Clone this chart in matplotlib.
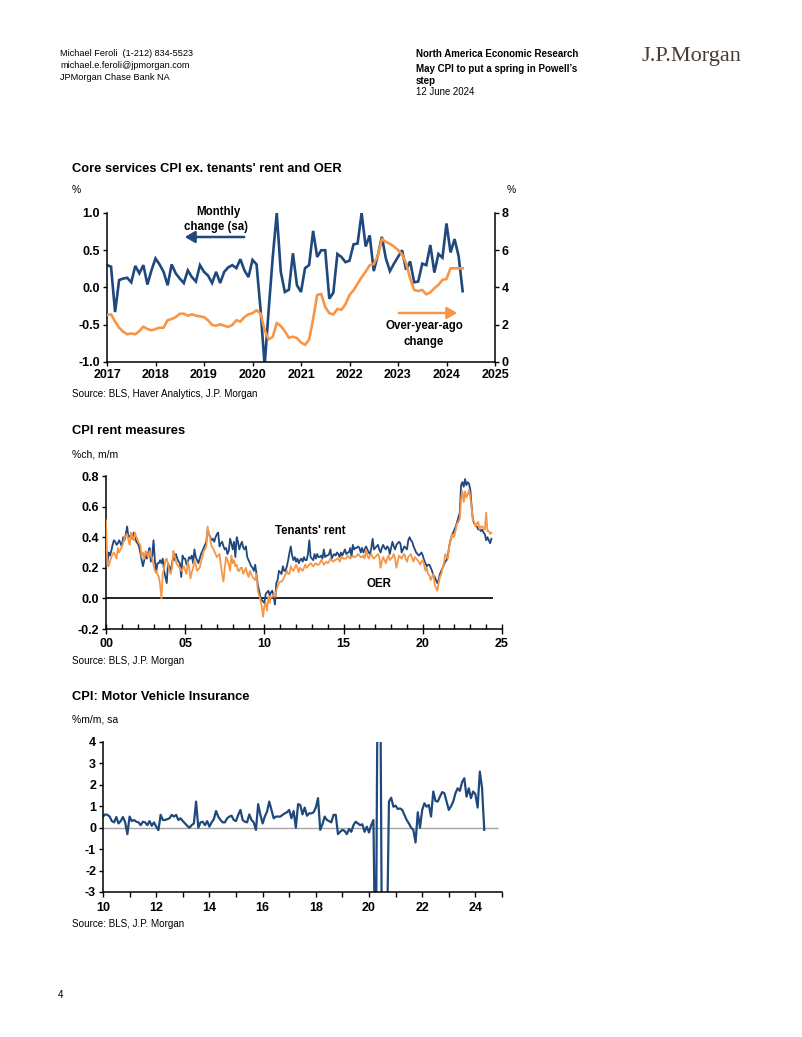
import matplotlib
matplotlib.use("Agg")
import matplotlib.pyplot as plt
import numpy as np

plt.rcParams['font.family'] = ['Liberation Sans', 'DejaVu Sans']

# ---------------- DATA ----------------
# Chart 1: Core services CPI ex. tenants' rent and OER, monthly Jan 2017 - May 2024
core_mom = [0.30, 0.28, -0.33, 0.10, 0.12, 0.13, 0.07, 0.29, 0.19, 0.30, 0.04, 0.23,
            0.39, 0.31, 0.21, 0.03, 0.31, 0.19, 0.12, 0.06, 0.23, 0.14, 0.08, 0.30,
            0.21, 0.16, 0.06, 0.21, 0.06, 0.21, 0.27, 0.30, 0.26, 0.38, 0.23, 0.14,
            0.37, 0.31, -0.30, -1.05, -0.30, 0.40, 1.00, 0.21, -0.06, -0.03, 0.46, 0.03,
            -0.06, 0.26, 0.30, 0.76, 0.41, 0.50, 0.50, -0.15, -0.07, 0.45, 0.41, 0.34,
            0.36, 0.58, 0.59, 1.00, 0.55, 0.70, 0.22, 0.43, 0.68, 0.39, 0.22, 0.32,
            0.41, 0.50, 0.24, 0.35, 0.07, 0.08, 0.32, 0.30, 0.57, 0.20, 0.45, 0.40,
            0.86, 0.47, 0.65, 0.42, -0.05]
core_yoy = [2.52, 2.56, 2.17, 1.84, 1.63, 1.49, 1.53, 1.49, 1.66, 1.90, 1.77, 1.70,
            1.77, 1.84, 1.84, 2.25, 2.31, 2.41, 2.59, 2.59, 2.49, 2.56, 2.49, 2.45,
            2.41, 2.24, 1.99, 1.95, 2.02, 1.95, 1.88, 1.99, 2.24, 2.17, 2.41, 2.56,
            2.62, 2.78, 2.60, 1.70, 1.22, 1.35, 2.10, 1.93, 1.66, 1.30, 1.36, 1.28,
            1.05, 0.92, 1.20, 2.30, 3.60, 3.65, 2.95, 2.62, 2.55, 2.85, 2.80, 3.10,
            3.60, 3.85, 4.20, 4.55, 4.85, 5.20, 5.25, 5.70, 6.60, 6.45, 6.35, 6.20,
            6.01, 5.78, 5.30, 4.49, 3.87, 3.81, 3.87, 3.63, 3.74, 3.96, 4.14, 4.41,
            4.46, 5.03, 5.03, 5.03, 5.03]
c1_start = 2017
c1_xticks = [2017, 2018, 2019, 2020, 2021, 2022, 2023, 2024, 2025]
c1_yticks = [-1.0, -0.5, 0.0, 0.5, 1.0]
c1_y2ticks = [0, 2, 4, 6, 8]

# Chart 2: CPI rent measures, %ch m/m, monthly Jan 2000 - May 2024
rent = [0.33, 0.23, 0.30, 0.28, 0.31, 0.35, 0.38, 0.37, 0.35, 0.36, 0.38, 0.36,
        0.34, 0.40, 0.38, 0.42, 0.47, 0.40, 0.41, 0.40, 0.39, 0.43, 0.40, 0.37,
        0.36, 0.34, 0.30, 0.25, 0.21, 0.25, 0.29, 0.26, 0.30, 0.33, 0.24, 0.28,
        0.38, 0.25, 0.17, 0.23, 0.23, 0.25, 0.23, 0.26, 0.18, 0.14, 0.10, 0.23,
        0.20, 0.18, 0.23, 0.27, 0.25, 0.29, 0.26, 0.24, 0.23, 0.14, 0.28, 0.26,
        0.26, 0.22, 0.24, 0.27, 0.26, 0.28, 0.23, 0.32, 0.27, 0.25, 0.23, 0.26,
        0.29, 0.31, 0.33, 0.35, 0.37, 0.45, 0.42, 0.40, 0.38, 0.39, 0.37, 0.40,
        0.42, 0.43, 0.34, 0.36, 0.37, 0.34, 0.32, 0.33, 0.29, 0.31, 0.39, 0.36,
        0.32, 0.37, 0.27, 0.40, 0.37, 0.32, 0.35, 0.37, 0.33, 0.32, 0.34, 0.27,
        0.25, 0.23, 0.21, 0.20, 0.18, 0.22, 0.16, 0.09, 0.05, 0.01, -0.01, -0.02,
        -0.03, 0.03, 0.04, 0.05, 0.02, 0.04, 0.05, 0.01, -0.04, 0.10, 0.12, 0.18,
        0.17, 0.16, 0.21, 0.18, 0.18, 0.21, 0.25, 0.30, 0.34, 0.28, 0.25, 0.27,
        0.24, 0.26, 0.23, 0.25, 0.26, 0.24, 0.27, 0.25, 0.25, 0.29, 0.38, 0.27,
        0.26, 0.25, 0.29, 0.26, 0.29, 0.27, 0.27, 0.28, 0.26, 0.32, 0.27, 0.28,
        0.28, 0.29, 0.32, 0.26, 0.28, 0.29, 0.28, 0.30, 0.29, 0.27, 0.30, 0.28,
        0.30, 0.32, 0.29, 0.30, 0.30, 0.33, 0.27, 0.35, 0.32, 0.33, 0.33, 0.34,
        0.33, 0.30, 0.33, 0.30, 0.32, 0.34, 0.32, 0.30, 0.29, 0.33, 0.39, 0.32,
        0.33, 0.34, 0.35, 0.32, 0.30, 0.33, 0.35, 0.33, 0.32, 0.34, 0.33, 0.29,
        0.33, 0.37, 0.34, 0.32, 0.35, 0.36, 0.37, 0.36, 0.30, 0.32, 0.34, 0.33,
        0.32, 0.38, 0.40, 0.38, 0.37, 0.34, 0.32, 0.30, 0.29, 0.28, 0.29, 0.30,
        0.28, 0.25, 0.23, 0.21, 0.22, 0.22, 0.20, 0.18, 0.15, 0.14, 0.12, 0.10,
        0.12, 0.16, 0.18, 0.20, 0.22, 0.24, 0.25, 0.28, 0.34, 0.38, 0.41, 0.43,
        0.45, 0.47, 0.50, 0.53, 0.56, 0.74, 0.76, 0.73, 0.78, 0.74, 0.76, 0.75,
        0.71, 0.60, 0.51, 0.49, 0.48, 0.47, 0.45, 0.45, 0.44, 0.45, 0.43, 0.42,
        0.38, 0.40, 0.38, 0.36, 0.39]
oer = [0.51, 0.22, 0.21, 0.24, 0.27, 0.29, 0.30, 0.28, 0.26, 0.33, 0.30, 0.32,
       0.34, 0.36, 0.40, 0.41, 0.42, 0.38, 0.35, 0.43, 0.40, 0.38, 0.43, 0.40,
       0.38, 0.36, 0.35, 0.27, 0.30, 0.26, 0.31, 0.29, 0.27, 0.31, 0.28, 0.26,
       0.22, 0.18, 0.18, 0.16, 0.14, 0.09, 0.00, 0.16, 0.20, 0.25, 0.26, 0.22,
       0.18, 0.16, 0.20, 0.31, 0.28, 0.24, 0.22, 0.21, 0.20, 0.18, 0.19, 0.21,
       0.18, 0.16, 0.24, 0.20, 0.13, 0.17, 0.20, 0.25, 0.22, 0.18, 0.19, 0.20,
       0.24, 0.27, 0.31, 0.32, 0.34, 0.47, 0.42, 0.39, 0.34, 0.33, 0.31, 0.29,
       0.27, 0.28, 0.29, 0.22, 0.16, 0.11, 0.20, 0.27, 0.25, 0.22, 0.18, 0.28,
       0.23, 0.25, 0.21, 0.22, 0.18, 0.18, 0.20, 0.20, 0.16, 0.18, 0.20, 0.16,
       0.14, 0.18, 0.16, 0.14, 0.13, 0.12, 0.16, 0.05, 0.02, -0.01, -0.05, -0.12,
       -0.05, -0.03, -0.08, 0.01, -0.03, 0.01, 0.01, 0.03, 0.01, 0.05, 0.08, 0.10,
       0.11, 0.11, 0.12, 0.14, 0.16, 0.18, 0.16, 0.16, 0.21, 0.19, 0.18, 0.20,
       0.22, 0.20, 0.17, 0.20, 0.19, 0.18, 0.20, 0.22, 0.20, 0.21, 0.22, 0.23,
       0.22, 0.21, 0.22, 0.23, 0.22, 0.22, 0.23, 0.25, 0.24, 0.22, 0.23, 0.24,
       0.23, 0.24, 0.26, 0.25, 0.24, 0.25, 0.25, 0.26, 0.26, 0.24, 0.26, 0.27,
       0.26, 0.26, 0.26, 0.28, 0.27, 0.26, 0.27, 0.28, 0.27, 0.27, 0.28, 0.29,
       0.28, 0.27, 0.27, 0.28, 0.26, 0.32, 0.28, 0.26, 0.28, 0.29, 0.27, 0.26,
       0.27, 0.28, 0.29, 0.27, 0.20, 0.24, 0.27, 0.25, 0.23, 0.26, 0.28, 0.25,
       0.26, 0.27, 0.29, 0.26, 0.20, 0.24, 0.28, 0.27, 0.26, 0.28, 0.29, 0.26,
       0.24, 0.27, 0.28, 0.29, 0.26, 0.24, 0.27, 0.26, 0.25, 0.24, 0.22, 0.24,
       0.25, 0.22, 0.18, 0.20, 0.16, 0.15, 0.12, 0.14, 0.16, 0.09, 0.07, 0.05,
       0.10, 0.14, 0.16, 0.20, 0.23, 0.29, 0.27, 0.26, 0.34, 0.38, 0.42, 0.40,
       0.41, 0.45, 0.49, 0.50, 0.52, 0.65, 0.70, 0.63, 0.70, 0.66, 0.68, 0.71,
       0.66, 0.59, 0.51, 0.50, 0.47, 0.49, 0.50, 0.45, 0.47, 0.47, 0.46, 0.45,
       0.56, 0.44, 0.44, 0.42, 0.43]
c2_start = 2000
c2_xticks = [2000, 2005, 2010, 2015, 2020, 2025]
c2_xlabels = ['00', '05', '10', '15', '20', '25']
c2_yticks = [-0.2, 0.0, 0.2, 0.4, 0.6, 0.8]

# Chart 3: CPI motor vehicle insurance, %m/m sa, monthly Jan 2010 - May 2024
mvi = [0.52, 0.62, 0.60, 0.52, 0.31, 0.25, 0.50, 0.20, 0.31, 0.50, 0.25, -0.30,
       0.52, 0.31, 0.36, 0.28, 0.25, 0.12, 0.28, 0.25, 0.12, 0.31, 0.09, 0.25,
       0.05, -0.11, 0.60, 0.36, 0.36, 0.40, 0.44, 0.60, 0.52, 0.60, 0.36, 0.44,
       0.31, 0.20, 0.09, 0.00, 0.12, 0.20, 1.22, 0.00, 0.25, 0.28, 0.12, 0.31,
       0.05, 0.25, 0.40, 0.78, 0.52, 0.36, 0.25, 0.25, 0.44, 0.52, 0.56, 0.36,
       0.31, 0.60, 0.83, 0.36, 0.28, 0.25, 0.62, 0.36, 0.25, -0.10, 1.10, 0.60,
       0.20, 0.52, 0.75, 1.22, 0.83, 0.44, 0.52, 0.52, 0.52, 0.60, 0.67, 0.72,
       0.83, 0.44, 0.78, 0.00, 1.10, 1.06, 0.62, 0.94, 0.56, 0.67, 0.67, 0.72,
       0.94, 1.38, -0.10, 0.16, 0.52, 0.36, 0.31, 0.25, 0.60, 0.60, -0.30, -0.19,
       -0.10, -0.15, -0.30, -0.06, -0.19, 0.12, 0.28, 0.20, 0.12, 0.16, -0.19, 0.05,
       -0.22, 0.12, 0.36, -8.0, 9.0, 9.0, -9.0, -8.0, -6.0, 1.22, 1.40, 0.98,
       1.03, 0.87, 0.90, 0.83, 0.60, 0.36, 0.20, 0.00, -0.10, -0.69, 0.72, 0.00,
       0.83, 1.14, 0.98, 1.06, 0.52, 1.69, 1.25, 1.22, 1.45, 1.66, 1.61, 1.22,
       0.83, 1.00, 1.22, 1.61, 1.84, 1.72, 2.13, 2.31, 1.45, 1.84, 1.38, 1.69,
       1.56, 0.94, 2.62, 1.85, -0.10]
c3_start = 2010
c3_xticks = [2010, 2012, 2014, 2016, 2018, 2020, 2022, 2024]
c3_xlabels = ['10', '12', '14', '16', '18', '20', '22', '24']
c3_yticks = [-3, -2, -1, 0, 1, 2, 3, 4]

# ---------------- FIGURE ----------------
W, H = 802, 1037
fig = plt.figure(figsize=(W / 100, H / 100), dpi=100)
BLUE = '#1F497D'
ORANGE = '#F79646'


def fx(x):
    return x / W


def fy(y):
    return 1 - y / H


def txt(x, y, s, size, bold=False, ha='left', va='center', **kw):
    fig.text(fx(x), fy(y), s, fontsize=size, fontweight='bold' if bold else 'normal',
             ha=ha, va=va, **kw)


def add_axes(l, t, r, b):
    return fig.add_axes([fx(l), fy(b), (r - l) / W, (b - t) / H])


# Header
txt(60, 53, "Michael Feroli  (1-212) 834-5523", 6.6)
txt(60, 65, "michael.e.feroli@jpmorgan.com", 6.6)
txt(60, 77, "JPMorgan Chase Bank NA", 6.6)
txt(416, 54, "North America Economic Research", 7.0, bold=True)
txt(416, 69, "May CPI to put a spring in Powell\u2019s", 7.0, bold=True)
txt(416, 81, "step", 7.0, bold=True)
txt(416, 92, "12 June 2024", 6.9)
fig.text(fx(641), fy(56), "J.P.Morgan", fontsize=16, family=['Liberation Serif', 'DejaVu Serif'],
         color='#4A3C32', ha='left', va='center')

# ---------- Chart 1 ----------
txt(72, 169, "Core services CPI ex. tenants' rent and OER", 9.3, bold=True)
txt(72, 190, "%", 7.5)
txt(511, 190, "%", 7.5, ha='center')
ax1 = add_axes(107, 213, 495, 362)
x1 = c1_start + np.arange(len(core_mom)) / 12
ax1.plot(x1, core_mom, color=BLUE, lw=1.9, solid_joinstyle='miter')
ax1.set_xlim(2017, 2025)
ax1.set_ylim(-1, 1)
ax1b = ax1.twinx()
ax1b.plot(x1, core_yoy, color=ORANGE, lw=1.9)
ax1b.set_ylim(0, 8)
ax1.set_xticks(c1_xticks, [str(v) for v in c1_xticks], fontweight='bold', fontsize=9)
ax1.set_yticks(c1_yticks, ["%.1f" % v for v in c1_yticks], fontweight='bold', fontsize=9)
ax1b.set_yticks(c1_y2ticks, [str(v) for v in c1_y2ticks], fontweight='bold', fontsize=9)
for a in (ax1, ax1b):
    a.spines['top'].set_visible(False)
    for s in a.spines.values():
        s.set_linewidth(1.1)
ax1.spines['right'].set_visible(False)
ax1b.spines['left'].set_visible(False)
ax1b.spines['bottom'].set_visible(False)
ax1.tick_params(axis='x', direction='out', length=3, width=1, pad=2)
ax1.tick_params(axis='y', direction='out', length=3, width=1, pad=2)
ax1b.tick_params(axis='y', direction='out', length=3, width=1, pad=2)
ax1.patch.set_visible(False)

txt(218, 212, "Monthly", 8.3, bold=True, ha='center')
txt(216, 227, "change (sa)", 8.3, bold=True, ha='center')
fig.add_artist(matplotlib.patches.FancyArrowPatch((fx(247), fy(237)), (fx(182), fy(237)),
               transform=fig.transFigure, arrowstyle='-|>,head_length=6,head_width=3.5',
               color=BLUE, lw=1.8, mutation_scale=1))
txt(424, 326, "Over-year-ago", 8.3, bold=True, ha='center')
txt(424, 342, "change", 8.3, bold=True, ha='center')
fig.add_artist(matplotlib.patches.FancyArrowPatch((fx(396), fy(313)), (fx(460), fy(313)),
               transform=fig.transFigure, arrowstyle='-|>,head_length=6,head_width=3.5',
               color=ORANGE, lw=1.8, mutation_scale=1))
txt(72, 394, "Source: BLS, Haver Analytics, J.P. Morgan", 7.1)

# ---------- Chart 2 ----------
txt(72, 431, "CPI rent measures", 9.3, bold=True)
txt(72, 454, "%ch, m/m", 7.5)
ax2 = add_axes(106, 476, 502, 629)
x2 = c2_start + np.arange(len(rent)) / 12
ax2.hlines(0, 2000, 2024.42, color='black', lw=1.2, zorder=1)
ax2.plot(x2, rent, color=BLUE, lw=1.3, zorder=2)
ax2.plot(x2, oer, color=ORANGE, lw=1.3, zorder=3)
ax2.set_xlim(2000, 2025)
ax2.set_ylim(-0.2, 0.8)
ax2.set_xticks(c2_xticks, c2_xlabels, fontweight='bold', fontsize=9)
ax2.set_xticks(np.arange(2000, 2026), minor=True)
ax2.set_yticks(c2_yticks, ["%.1f" % v for v in c2_yticks], fontweight='bold', fontsize=9)
for k in ('top', 'right'):
    ax2.spines[k].set_visible(False)
for s in ax2.spines.values():
    s.set_linewidth(1.1)
ax2.tick_params(axis='x', which='major', direction='inout', length=7, width=1, pad=3)
ax2.tick_params(axis='x', which='minor', direction='in', length=3.5, width=1)
ax2.tick_params(axis='y', direction='out', length=3, width=1, pad=2)
txt(310, 531, "Tenants' rent", 8.3, bold=True, ha='center')
txt(379, 584, "OER", 8.3, bold=True, ha='center')
txt(72, 661, "Source: BLS, J.P. Morgan", 7.1)

# ---------- Chart 3 ----------
txt(72, 697, "CPI: Motor Vehicle Insurance", 9.3, bold=True)
txt(72, 719, "%m/m, sa", 7.5)
ax3 = add_axes(103, 742, 502, 892)
x3 = c3_start + np.arange(len(mvi)) / 12
ax3.hlines(0, 2010, 2024.85, color='#A6A6A6', lw=1.0, zorder=1)
ax3.plot(x3, mvi, color=BLUE, lw=1.6, zorder=2)
ax3.set_xlim(2010, 2025)
ax3.set_ylim(-3, 4)
ax3.set_xticks(c3_xticks, c3_xlabels, fontweight='bold', fontsize=9)
ax3.set_xticks(np.arange(2010, 2026), minor=True)
ax3.set_yticks(c3_yticks, [str(v) for v in c3_yticks], fontweight='bold', fontsize=9)
for k in ('top', 'right'):
    ax3.spines[k].set_visible(False)
for s in ax3.spines.values():
    s.set_linewidth(1.1)
ax3.tick_params(axis='x', which='both', direction='out', length=3.5, width=1, pad=4)
ax3.tick_params(axis='y', direction='out', length=3, width=1, pad=2)
txt(72, 924, "Source: BLS, J.P. Morgan", 7.1)

txt(58, 995, "4", 7.1)

fig.savefig("out.png", dpi=100)
